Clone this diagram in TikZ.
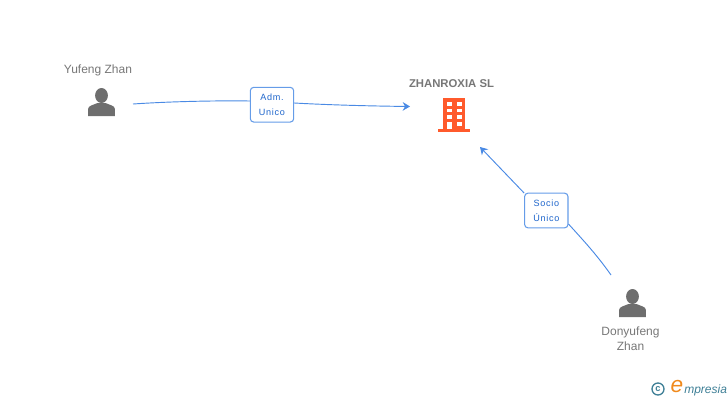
\documentclass[tikz,border=0pt]{standalone}
\usepackage{xcolor}
\usepackage{fontspec}
\setmainfont{Liberation Sans}
\usetikzlibrary{arrows.meta,positioning}
\definecolor{namegray}{HTML}{777777}
\definecolor{icongray}{HTML}{6E6E6E}
\definecolor{linkblue}{HTML}{4A8AE4}
\definecolor{tagblue}{HTML}{1F66CC}
\definecolor{buildorange}{HTML}{FF5A2C}
\definecolor{logoteal}{HTML}{3E7F96}
\definecolor{logoorange}{HTML}{F08A1D}
\tikzset{
    person/.pic={
        \fill[icongray] (0,-20.5) ellipse (6.4 and 7.5);
        \fill[icongray] (-13.4,0) -- (-13.4,-7) .. controls (-13.4,-10.5) and (-8,-11) .. (-4,-13) -- (4,-13) .. controls (8,-11) and (13.4,-10.5) .. (13.4,-7) -- (13.4,0) -- cycle;
    },
    nodename/.style={font=\fontsize{9}{11.25}\selectfont, text=namegray, align=center, inner sep=0pt},
    roletag/.style={draw=linkblue!85, fill=white, rounded corners=2.5pt, line width=0.8pt, text=tagblue, align=center, inner sep=0pt,
        minimum width=32.5pt, minimum height=26pt, font=\fontsize{6.8}{11.25}\selectfont\addfontfeatures{LetterSpace=8}},
    linkline/.style={draw=linkblue, line width=0.7pt},
}
\begin{document}
\begin{tikzpicture}[x=0.75pt,y=-0.75pt]
    \useasboundingbox (0,0) rectangle (728,400);
    % people and company
    \pic at (101.5,116) {person};
    \pic at (632.5,317) {person};
    \node[nodename] (yufeng) at (98,70) {Yufeng Zhan};
    \node[nodename] (donyufeng) at (630.5,338.5) {Donyufeng\\Zhan};
    \node[nodename, font=\fontsize{8.5}{11.25}\selectfont\bfseries] (zhanroxia) at (451.5,84) {ZHANROXIA SL};
    % building
    \fill[buildorange] (443,98) rectangle (465,129.5);
    \fill[buildorange] (438,129) rectangle (470,132);
    \foreach \y in {102,108.7,115.4} {
        \fill[white] (446.7,\y) rectangle +(5,3.6);
        \fill[white] (456.7,\y) rectangle +(5,3.6);
    }
    \fill[white] (447.3,121.7) rectangle (451.7,129);
    \fill[white] (456.7,121.7) rectangle +(5,4);
    % links
    \coordinate (yufengend) at (133,104);
    \coordinate (zhanin) at (410,106.5);
    \coordinate (donyufengend) at (611,275);
    \coordinate (zhanbelow) at (480,147);
    \node[roletag] (adm) at (272,104.7) {Adm.\\Unico};
    \node[roletag] (socio) at (546.3,210.5) {Socio\\Único};
    \draw[linkline] (yufengend) .. controls (170,101.5) and (215,100.5) .. (adm.west |- 0,101);
    \draw[linkline, -{Stealth[length=5.5pt,width=6.5pt]}] (adm.east |- 0,103) .. controls (330,105) and (370,106) .. (zhanin);
    \draw[linkline] (donyufengend) .. controls (597,255) and (583,240) .. (socio.east |- 0,224);
    \draw[linkline, -{Stealth[length=5.5pt,width=6.5pt]}] (socio.west |- 0,193) -- (zhanbelow);
    % logo
    \node[draw=logoteal, circle, line width=1pt, inner sep=0pt, minimum size=9pt, text=logoteal, font=\fontsize{7}{7}\selectfont\bfseries] (copyright) at (658,389) {c};
    \node[inner sep=0pt, text=logoorange, font=\fontsize{17}{17}\selectfont\itshape] (logoe) at (677,387) {e};
    \node[anchor=west, inner sep=0pt, text=logoteal, font=\fontsize{9}{11}\selectfont\itshape] (logotext) at (684,390) {mpresia};
\end{tikzpicture}
\end{document}
